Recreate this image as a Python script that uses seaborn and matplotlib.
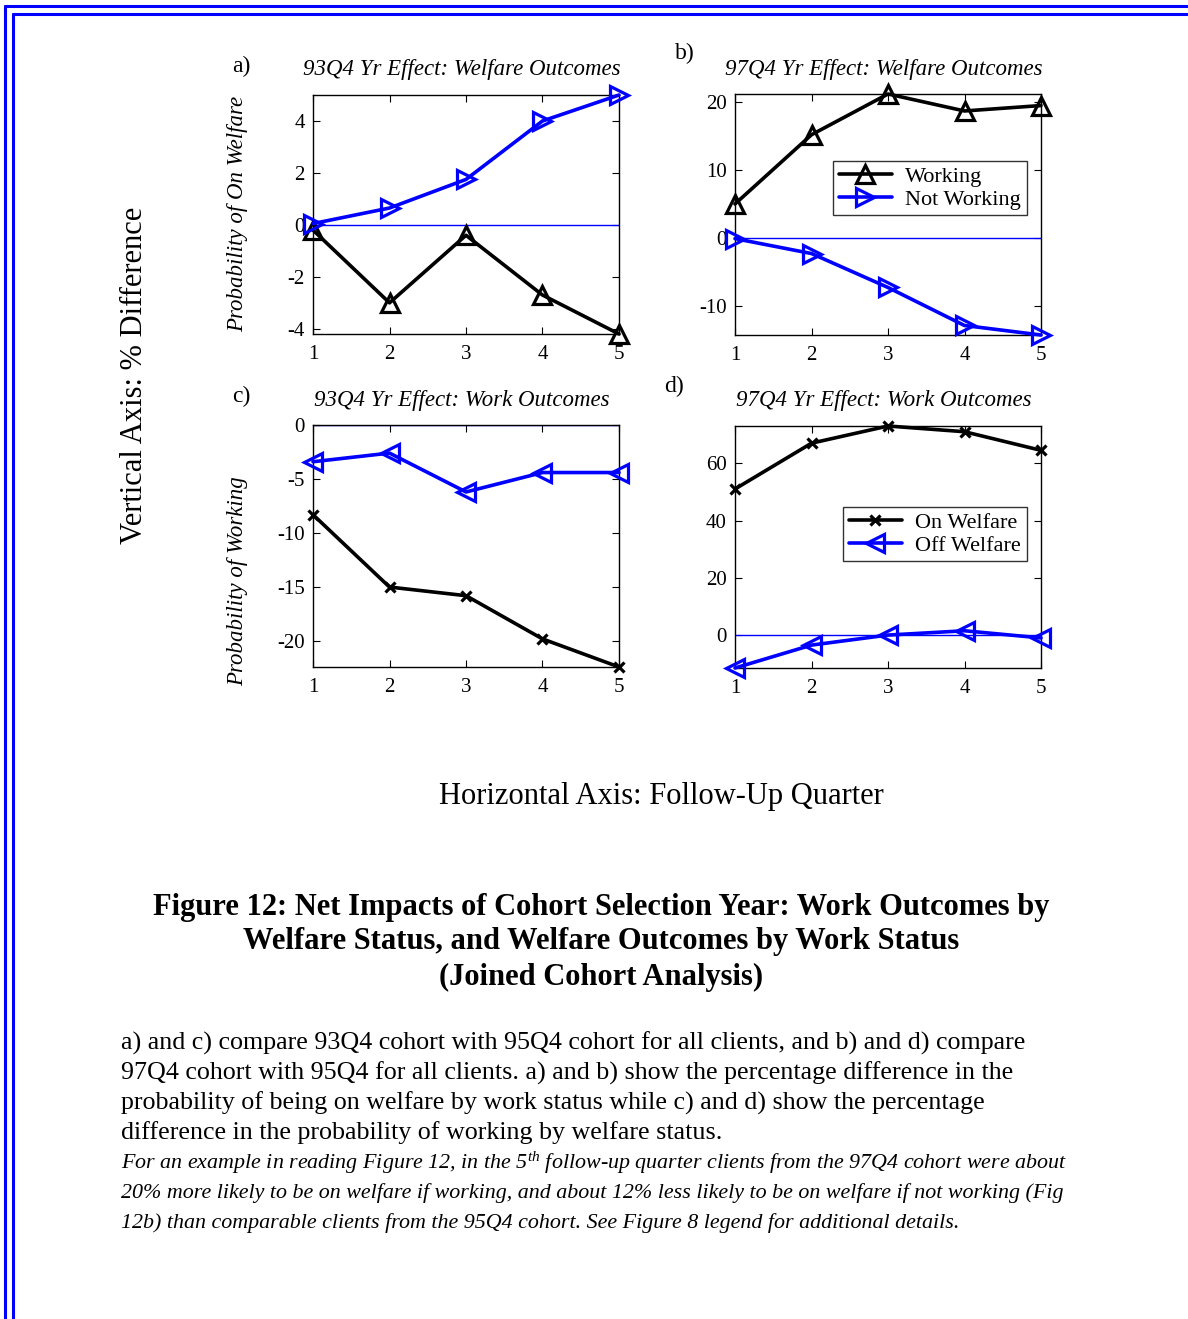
import matplotlib
matplotlib.use("Agg")
import matplotlib.pyplot as plt
import seaborn as sns
import pandas as pd
from matplotlib.lines import Line2D

# ---- data -------------------------------------------------------------
quarters = [1, 2, 3, 4, 5]

# a) 93Q4 year effect on welfare outcomes
a_working = [-0.2, -3.0, -0.4, -2.7, -4.2]
a_not_working = [0.05, 0.65, 1.75, 4.0, 5.0]

# b) 97Q4 year effect on welfare outcomes
b_working = [5.0, 15.2, 21.2, 18.7, 19.5]
b_not_working = [-0.1, -2.3, -7.3, -12.9, -14.3]

# c) 93Q4 year effect on work outcomes
c_on_welfare = [-8.3, -15.0, -15.8, -19.8, -22.4]
c_off_welfare = [-3.4, -2.6, -6.2, -4.4, -4.4]

# d) 97Q4 year effect on work outcomes
d_on_welfare = [51.0, 67.0, 73.0, 71.0, 64.5]
d_off_welfare = [-11.5, -3.5, 0.0, 1.5, -1.0]

panel_titles = ["93Q4 Yr Effect: Welfare Outcomes", "97Q4 Yr Effect: Welfare Outcomes",
                "93Q4 Yr Effect: Work Outcomes", "97Q4 Yr Effect: Work Outcomes"]
panel_tags = ["a)", "b)", "c)", "d)"]
yticks = [[-4, -2, 0, 2, 4], [-10, 0, 10, 20], [-20, -15, -10, -5, 0], [0, 20, 40, 60]]

# ---- style ------------------------------------------------------------
sns.set_theme(style="white")
plt.rcParams["font.family"] = ["Liberation Serif", "DejaVu Serif"]
plt.rcParams["mathtext.fontset"] = "custom"
plt.rcParams["mathtext.it"] = "Liberation Serif:italic"
plt.rcParams["mathtext.rm"] = "Liberation Serif"
plt.rcParams["text.color"] = "black"
plt.rcParams["axes.unicode_minus"] = False

W, H = 1188, 1319
fig = plt.figure(figsize=(W / 100, H / 100), dpi=100)
fig.patch.set_facecolor("white")


def fx(x):
    return x / W


def fy(y):
    return 1 - y / H


def add_axes_px(x0, y0, x1, y1):
    return fig.add_axes([fx(x0), fy(y1), fx(x1 - x0), (y1 - y0) / H])


BLUE = (0, 0, 1)
rects = [(313, 95, 619, 334), (735, 94, 1041, 335), (313, 425, 619, 667), (735, 426, 1041, 668)]

series = [
    (a_working, "^", "black", a_not_working, ">", BLUE),
    (b_working, "^", "black", b_not_working, ">", BLUE),
    (c_on_welfare, "x", "black", c_off_welfare, "<", BLUE),
    (d_on_welfare, "x", "black", d_off_welfare, "<", BLUE),
]


def marker_style(mk, colr):
    kw = dict(marker=mk, markersize=13 if mk != "x" else 7,
              markeredgewidth=2.3, markeredgecolor=colr)
    kw["markerfacecolor"] = "none" if mk != "x" else colr
    return kw


axes = []
for i, (r, s) in enumerate(zip(rects, series)):
    ax = add_axes_px(*r)
    axes.append(ax)
    y1, m1, c1, y2, m2, c2 = s
    df = pd.DataFrame({"q": quarters, "y1": y1, "y2": y2})
    # zero reference line
    ax.axhline(0, color=BLUE, lw=1.0, zorder=1)
    for col, mk, colr in (("y1", m1, c1), ("y2", m2, c2)):
        sns.lineplot(data=df, x="q", y=col, ax=ax, color=colr, lw=2.6,
                     clip_on=False, zorder=3, **marker_style(mk, colr))
    lo = min(min(y1), min(y2), 0)
    hi = max(max(y1), max(y2), 0)
    ax.set_xlim(1, 5)
    ax.set_ylim(lo, hi)
    ax.set_xticks(quarters)
    ax.set_yticks(yticks[i])
    ax.set_xlabel("")
    ax.set_ylabel("")
    ax.tick_params(direction="in", length=5, width=0.8, top=True, right=True,
                   labelsize=15, colors="black", bottom=True, left=True)
    ax.tick_params(axis="x", pad=8)
    ax.tick_params(axis="y", pad=6)
    for sp in ax.spines.values():
        sp.set_color("black")
        sp.set_linewidth(1.0)
        sp.set_visible(True)
    ax.set_facecolor("white")

# panel titles and tags
title_pos = [(462, 69), (884, 69), (462, 400), (884, 400)]
tag_pos = [(241, 66), (685, 53), (241, 396), (674, 386)]
for t, (x, y) in zip(panel_titles, title_pos):
    fig.text(fx(x), fy(y), t, ha="center", va="center", style="italic", fontsize=16.5)
for t, (x, y) in zip(panel_tags, tag_pos):
    fig.text(fx(x), fy(y), t, ha="center", va="center", fontsize=17)

# per-row y labels
fig.text(fx(238), fy(214), "Probability of On Welfare", rotation=90, ha="center",
         va="center", style="italic", fontsize=16.5)
fig.text(fx(238), fy(581), "Probability of Working", rotation=90, ha="center",
         va="center", style="italic", fontsize=16.5)

# legends
leg_specs = [(1, (833, 161), ("Working", "Not Working"), ("^", ">")),
             (3, (843, 507), ("On Welfare", "Off Welfare"), ("x", "<"))]
for idx, (lx, ly), names, mks in leg_specs:
    handles = [Line2D([0], [0], color=colr, lw=2.6, **marker_style(mk, colr))
               for mk, colr in zip(mks, ("black", BLUE))]
    leg = axes[idx].legend(handles, names, loc="upper left",
                           bbox_to_anchor=(fx(lx), fy(ly)),
                           bbox_transform=fig.transFigure, fontsize=16,
                           frameon=True, fancybox=False, borderaxespad=0,
                           handlelength=2.4, borderpad=0.25, labelspacing=0.1,
                           handletextpad=0.6)
    leg.get_frame().set_edgecolor("black")
    leg.get_frame().set_linewidth(1.0)

# overall axis captions
fig.text(fx(135), fy(375), "Vertical Axis: % Difference", rotation=90, ha="center",
         va="center", fontsize=22)
fig.text(fx(661), fy(797), "Horizontal Axis: Follow-Up Quarter", ha="center",
         va="center", fontsize=22)

# figure caption
cap = ["Figure 12: Net Impacts of Cohort Selection Year: Work Outcomes by",
       "Welfare Status, and Welfare Outcomes by Work Status",
       "(Joined Cohort Analysis)"]
for k, line in enumerate(cap):
    fig.text(fx(601), fy(907 + 35 * k), line, ha="center", va="center",
             fontsize=22, fontweight="bold")

body = ["a) and c) compare 93Q4 cohort with 95Q4 cohort for all clients, and b) and d) compare",
        "97Q4 cohort with 95Q4 for all clients. a) and b) show the percentage difference in the",
        "probability of being on welfare by work status while c) and d) show the percentage",
        "difference in the probability of working by welfare status."]
for k, line in enumerate(body):
    fig.text(fx(121), fy(1043 + 30 * k), line, ha="left", va="center", fontsize=18.7)

note = [r"For an example in reading Figure 12, in the 5$^{th}$ follow-up quarter clients from the 97Q4 cohort were about",
        "20% more likely to be on welfare if working, and about 12% less likely to be on welfare if not working (Fig",
        "12b) than comparable clients from the 95Q4 cohort. See Figure 8 legend for additional details."]
for k, line in enumerate(note):
    fig.text(fx(121), fy(1163 + 30 * k), line, ha="left", va="center", fontsize=15.8,
             style="italic")

# double blue page border (top and left edges)
for off in (6, 14):
    fig.add_artist(Line2D([fx(off - 1), 1.0], [fy(off), fy(off)], color=BLUE, lw=2.2,
                          transform=fig.transFigure))
    fig.add_artist(Line2D([fx(off - 1), fx(off - 1)], [fy(off), 0.0], color=BLUE, lw=2.2,
                          transform=fig.transFigure))

fig.savefig("out.png", dpi=100, facecolor="white")
